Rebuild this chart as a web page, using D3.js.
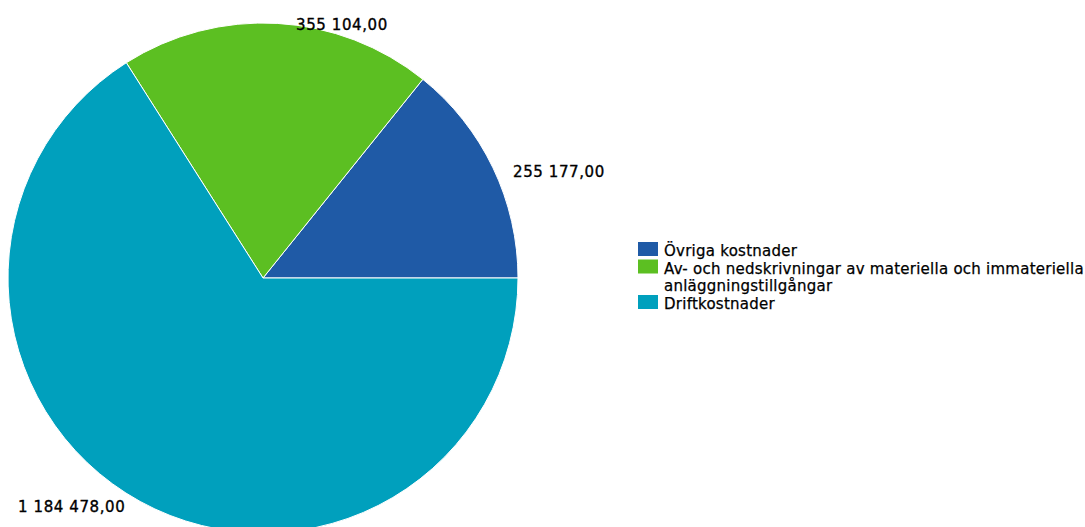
<!DOCTYPE html>
<html><head><meta charset="utf-8">
<script src="https://cdn.jsdelivr.net/npm/d3@7"></script>
<style>body{margin:0;background:#fff;}svg{display:block;}</style>
</head><body>
<script>
const categories = ["Övriga kostnader", "Av- och nedskrivningar av materiella och immateriella anläggningstillgångar", "Driftkostnader"];
const legendLines = [["Övriga kostnader"], ["Av- och nedskrivningar av materiella och immateriella", "anläggningstillgångar"], ["Driftkostnader"]];
const values = [255177, 355104, 1184478];
const labels = ["255 177,00", "355 104,00", "1 184 478,00"];
const colors = ["#1f5aa6", "#5cbf22", "#00a0bd"];

const W = 1085, H = 527;
const svg = d3.select("body").append("svg").attr("width", W).attr("height", H);
const cx = 263, cy = 278, R = 255;
const pie = d3.pie().sort(null).startAngle(Math.PI/2).endAngle(Math.PI/2 - 2*Math.PI);
const arcs = pie(values);
const arc = d3.arc().innerRadius(0).outerRadius(R);
const g = svg.append("g").attr("transform", `translate(${cx},${cy})`);
g.selectAll("path").data(arcs).join("path")
  .attr("d", arc).attr("fill", (d,i)=>colors[i]).attr("stroke", "#fff").attr("stroke-width", 1);

const font = "DejaVu Sans";
// labels
const labelPos = [[513, 177, "start"], [296, 30, "start"], [18, 512, "start"]];
svg.selectAll("text.lbl").data(labels).join("text").attr("class","lbl")
  .attr("x", (d,i)=>labelPos[i][0]).attr("y", (d,i)=>labelPos[i][1])
  .attr("font-family", font).attr("font-size", 15).attr("letter-spacing", 0.6)
  .attr("fill","#000").attr("stroke","#000").attr("stroke-width",0.35)
  .text(d=>d);

// legend
const lg = svg.append("g");
let y = 242;
legendLines.forEach((lines, i) => {
  lg.append("rect").attr("x", 638).attr("y", y).attr("width", 20).attr("height", 14).attr("fill", colors[i]);
  lines.forEach((t, j) => {
    lg.append("text").attr("x", 664).attr("y", y + 14 + j*17.5).attr("font-family", font).attr("font-size", 15)
      .attr("letter-spacing", 0.25).attr("fill", "#000").attr("stroke","#000").attr("stroke-width",0.25).text(t);
  });
  y += 17.5 * lines.length + (i === 1 ? 0.5 : 0);
});
</script>
</body></html>
